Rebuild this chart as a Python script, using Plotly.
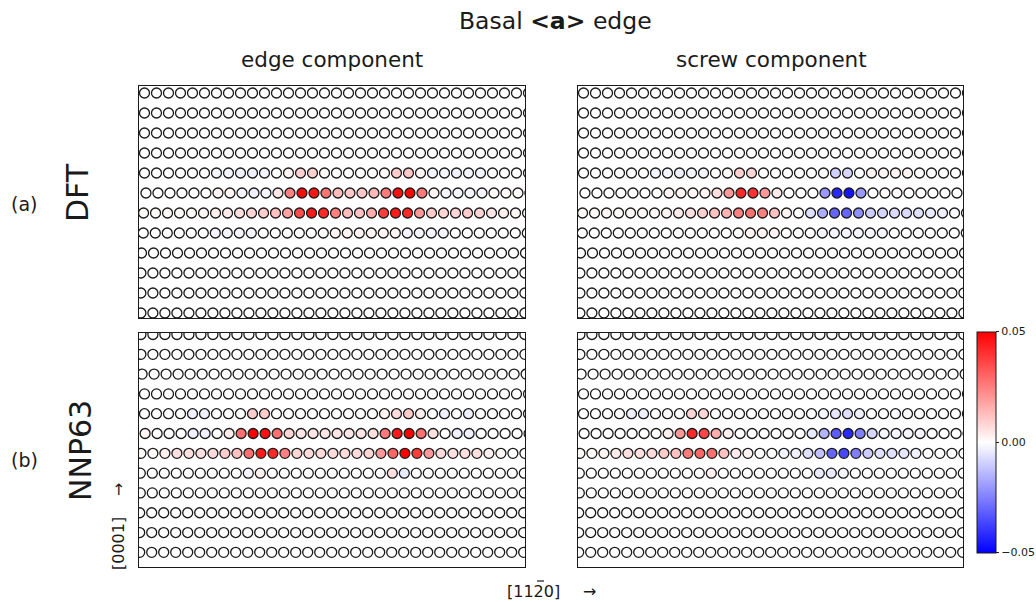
import plotly.graph_objects as go

# ---------------- data ----------------
n_cols = 33
col_index = list(range(n_cols))
row_index = list(range(12))
zero_row = [0.0] * n_cols

# horizontal drift of each atomic row (in lattice spacings)
top_row_shift = [0, 0, 0, 0, 0, 0.12, -0.08, -0.1, -0.25, -0.3, -0.3, -0.3]
bottom_row_shift = [-0.3, -0.3, -0.2, 0, 0, 0.05, -0.3, -0.35, -0.35, -0.4, -0.4, -0.4]

# DFT, edge component
dft_edge_r4 = [0, 0, 0, 0, 0, 0, -0.002, -0.002, -0.003, -0.003, -0.002, 0, 0.002, 0.009, 0.009, 0.001,
               0, 0, 0, 0, 0.001, 0.010, 0.011, 0.002, -0.002, -0.002, -0.003, -0.002, -0.002, 0, 0, 0, 0]
dft_edge_r5 = [0, 0, 0, 0, 0, 0, 0.002, 0.002, -0.002, -0.003, -0.002, 0.005, 0.025, 0.048, 0.046, 0.027,
               0.013, 0.011, 0.011, 0.014, 0.026, 0.047, 0.049, 0.026, 0.002, -0.002, -0.002, -0.002, -0.002,
               0.001, 0.001, 0.001, 0.001]
dft_edge_r6 = [0.001, 0.001, 0.001, 0.001, 0.001, 0.002, 0.003, 0.004, 0.006, 0.008, 0.010, 0.012, 0.018,
               0.035, 0.045, 0.042, 0.025, 0.013, 0.012, 0.016, 0.038, 0.045, 0.042, 0.020, 0.010, 0.008,
               0.008, 0.010, 0.008, 0.005, 0.003, 0.002, 0.001]
dft_edge_r7 = [0, 0, 0, 0, 0, 0, -0.002, -0.002, -0.002, -0.002, 0, 0, 0, 0, 0, 0.001, 0.002, 0.002, 0.002,
               0.002, 0.002, 0.002, -0.002, -0.002, -0.002, -0.002, 0, 0, 0, 0, 0, 0, 0]

# DFT, screw component
dft_screw_r4 = [0, 0, 0, 0, 0, 0, -0.002, -0.002, -0.003, -0.002, -0.002, 0, 0.001, 0.009, 0.008, 0,
                0, 0, 0, 0, -0.001, -0.009, -0.008, 0, 0.002, 0.002, 0.002, 0.002, 0, 0, 0, 0, 0]
dft_screw_r5 = [0, 0, 0, 0, 0, 0, 0, 0.002, 0.002, 0.002, 0.002, 0.006, 0.020, 0.042, 0.040, 0.020,
                0.004, 0, 0, 0, -0.020, -0.042, -0.046, -0.020, 0, 0.001, 0.001, 0, 0, 0, 0, 0, 0]
dft_screw_r6 = [0.001, 0.001, 0.001, 0.001, 0.001, 0.001, 0.001, 0.002, 0.004, 0.006, 0.009, 0.012, 0.015,
                0.025, 0.028, 0.025, 0.012, 0.002, 0, -0.006, -0.016, -0.030, -0.030, -0.022, -0.010,
                -0.008, -0.007, -0.007, -0.006, -0.004, -0.003, -0.001, 0]
dft_screw_r7 = [0, 0, 0, 0, 0, 0, 0, 0, 0, 0, 0, 0, 0, 0, 0.002, 0.002, 0.002, 0, 0, 0, -0.002, -0.002,
                -0.002, -0.002, -0.002, -0.002, 0, 0, 0, 0, 0, 0, 0]

# NNP63, edge component
nnp_edge_r4 = [0, 0, 0, 0, -0.003, -0.003, 0, 0, 0, 0.010, 0.010, 0, 0, 0, 0, 0, 0, 0, 0, 0,
               0.002, 0.007, 0.010, 0.003, 0, -0.003, 0, -0.003, 0, 0, 0, 0, 0]
nnp_edge_r5 = [0.002, 0, 0, 0, -0.003, -0.003, 0, 0.004, 0.028, 0.050, 0.047, 0.028, 0.008, 0.005, 0.005,
               0.005, 0.005, 0.005, 0.005, 0.006, 0.026, 0.045, 0.050, 0.028, 0.006, 0, -0.003, -0.003,
               0, 0, 0, 0, 0]
nnp_edge_r6 = [0.001, 0.001, 0.003, 0.006, 0.006, 0.006, 0.007, 0.010, 0.012, 0.028, 0.045, 0.042, 0.025,
               0.008, 0.007, 0.007, 0.007, 0.007, 0.007, 0.008, 0.020, 0.030, 0.050, 0.038, 0.020, 0.007,
               0.006, 0.006, 0.006, 0.003, 0.001, 0, 0]
nnp_edge_r7 = [0, 0, 0, 0, 0, 0, 0, 0, 0, -0.002, 0.003, 0, 0, 0, 0, 0, 0, 0, 0, 0, 0, 0.006, -0.004,
               0, 0, 0, 0, 0, 0, 0, 0, 0, 0]

# NNP63, screw component
nnp_screw_r4 = [0, 0, 0, 0, -0.003, -0.003, 0, 0, 0, 0.008, 0.008, 0, 0, 0, 0, 0, 0, 0, 0, 0,
                -0.002, -0.005, -0.006, -0.003, 0, 0, -0.001, 0, 0, 0, 0, 0, 0]
nnp_screw_r5 = [0, 0, 0, 0, 0, 0, 0, 0.003, 0.020, 0.042, 0.036, 0.016, 0.003, 0, 0, 0, 0, 0, 0, -0.004,
                -0.015, -0.032, -0.042, -0.025, -0.008, -0.002, -0.002, -0.002, -0.002, 0, 0, 0, -0.002]
nnp_screw_r6 = [0.001, 0.001, 0.002, 0.004, 0.006, 0.006, 0.007, 0.010, 0.012, 0.026, 0.030, 0.028,
                0.012, 0.004, 0.002, 0, 0, -0.002, -0.003, -0.006, -0.012, -0.030, -0.036, -0.025,
                -0.010, -0.006, -0.006, -0.005, -0.003, 0, 0, 0, 0]
nnp_screw_r7 = [0, 0, 0, 0, 0, 0, 0, 0, 0, 0, 0, 0.003, 0, 0, 0, 0, 0, 0, 0, 0, -0.004, -0.004, -0.002,
                0, 0, 0, 0, 0, 0, 0, 0, 0, 0]

dft_edge = [zero_row] * 4 + [dft_edge_r4, dft_edge_r5, dft_edge_r6, dft_edge_r7] + [zero_row] * 4
dft_screw = [zero_row] * 4 + [dft_screw_r4, dft_screw_r5, dft_screw_r6, dft_screw_r7] + [zero_row] * 4
nnp_edge = [zero_row] * 4 + [nnp_edge_r4, nnp_edge_r5, nnp_edge_r6, nnp_edge_r7] + [zero_row] * 4
nnp_screw = [zero_row] * 4 + [nnp_screw_r4, nnp_screw_r5, nnp_screw_r6, nnp_screw_r7] + [zero_row] * 4

cmin, cmax = -0.05, 0.05
bwr = [[0.0, "rgb(0,0,255)"], [0.5, "rgb(255,255,255)"], [1.0, "rgb(255,0,0)"]]

# ---------------- figure ----------------
W, H = 1036, 602
FONT = "DejaVu Sans"
INK = "#1a1a1a"

fig = go.Figure()

panels = [
    (dft_edge, "x", "y", top_row_shift, True),
    (dft_screw, "x2", "y2", top_row_shift, False),
    (nnp_edge, "x3", "y3", bottom_row_shift, False),
    (nnp_screw, "x4", "y4", bottom_row_shift, False),
]

for grid, xa, ya, shift, show in panels:
    xs, ys, cs = [], [], []
    for i in row_index:
        for j in col_index:
            xs.append(j + shift[i])
            ys.append(i)
            cs.append(grid[i][j])
    fig.add_trace(go.Scatter(
        x=xs, y=ys, mode="markers", xaxis=xa, yaxis=ya, showlegend=False,
        hoverinfo="skip",
        marker=dict(
            symbol="circle", size=10, color=cs, colorscale=bwr, cmin=cmin, cmax=cmax,
            line=dict(color=INK, width=1.3), showscale=show,
            colorbar=dict(
                x=977 / W, xanchor="left", y=1 - 442 / H, yanchor="middle",
                len=221, lenmode="pixels", thickness=19, thicknessmode="pixels",
                xpad=0, ypad=0, outlinewidth=1, outlinecolor=INK,
                tickvals=[-0.05, 0.0, 0.05], ticktext=["\u22120.05", "0.00", "0.05"],
                ticks="outside", ticklen=3, tickwidth=1, tickcolor=INK,
                tickfont=dict(size=11, color=INK, family=FONT),
            ),
        ),
    ))

def xax(l, r, rng):
    return dict(domain=[l / W, r / W], range=rng, showline=True, mirror=True, linecolor=INK,
                linewidth=1, showticklabels=False, ticks="", showgrid=False, zeroline=False,
                fixedrange=True)

def yax(t, b, rng, anchor):
    return dict(domain=[1 - b / H, 1 - t / H], range=rng, showline=True, mirror=True, linecolor=INK,
                linewidth=1, showticklabels=False, ticks="", showgrid=False, zeroline=False,
                fixedrange=True, anchor=anchor)

x_left = [-0.458, 31.708]
x_right = [-0.458, 31.625]
y_top = [11.25, -0.35]
y_bot = [11.74, -0.076]

fig.update_layout(
    width=W, height=H, margin=dict(l=0, r=0, t=0, b=0, autoexpand=False),
    paper_bgcolor="white", plot_bgcolor="white",
    font=dict(family=FONT, color=INK),
    xaxis=dict(**xax(139, 525, x_left), anchor="y"),
    yaxis=yax(86, 318, y_top, "x"),
    xaxis2=dict(**xax(578, 963, x_right), anchor="y2"),
    yaxis2=yax(86, 318, y_top, "x2"),
    xaxis3=dict(**xax(139, 525, x_left), anchor="y3"),
    yaxis3=yax(333, 567, y_bot, "x3"),
    xaxis4=dict(**xax(578, 963, x_right), anchor="y4"),
    yaxis4=yax(333, 567, y_bot, "x4"),
)

def label(text, x, y, size, angle=0):
    fig.add_annotation(text=text, x=x / W, y=1 - y / H, xref="paper", yref="paper",
                       showarrow=False, textangle=angle, xanchor="center", yanchor="middle",
                       font=dict(family=FONT, size=size, color=INK))

label("Basal <b>&lt;a&gt;</b> edge", 555, 21, 23.5)
label("edge component", 332, 60, 21.5)
label("screw component", 771, 60, 21.5)
label("(a)", 24, 204, 19)
label("DFT", 78, 193, 30, -90)
label("(b)", 24, 460, 19)
label("NNP63", 80, 451, 30, -90)
label("[0001]", 118, 544, 16, -90)
label("\u2192", 118, 490, 16, -90)
label("[1120]", 533, 591, 16)
label("\u2192", 589, 591, 16)

# overbar of the Miller-Bravais index "2" in [1 1 -2 0]
fig.add_shape(type="line", xref="paper", yref="paper",
              x0=537 / W, x1=544 / W, y0=1 - 581 / H, y1=1 - 581 / H,
              line=dict(color=INK, width=1.2))

fig.write_html("out.html")
